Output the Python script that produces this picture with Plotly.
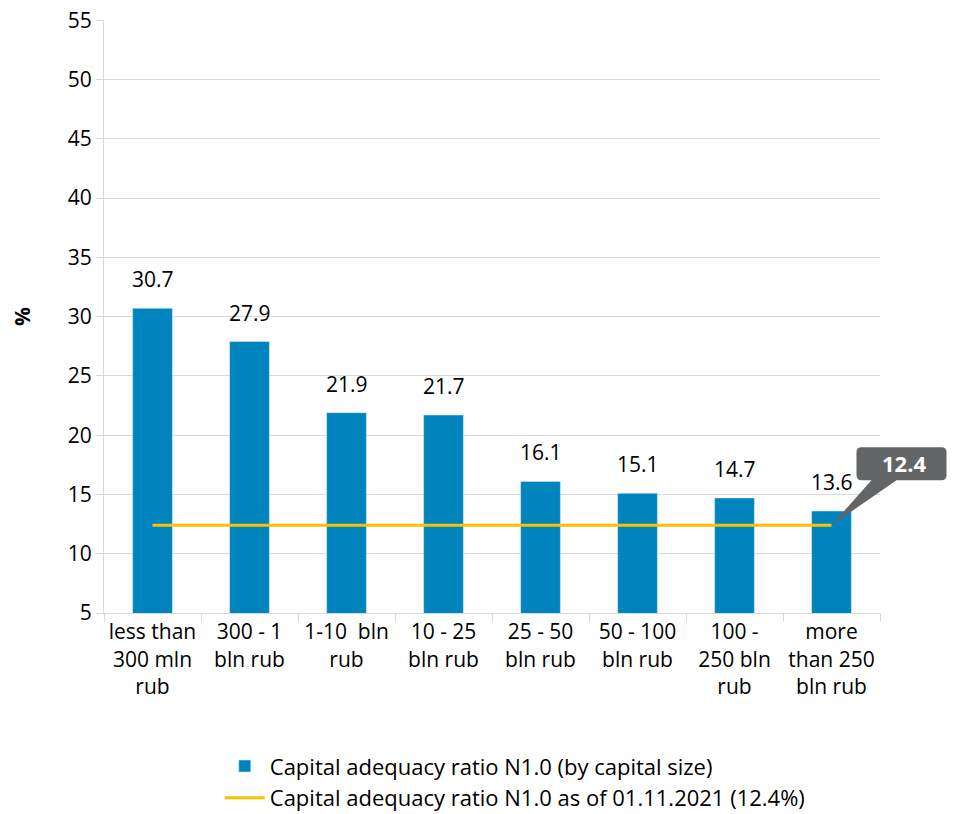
import plotly.graph_objects as go

# Data
categories = ["less than<br>300 mln<br>rub", "300 - 1<br>bln rub", "1-10  bln<br>rub",
              "10 - 25<br>bln rub", "25 - 50<br>bln rub", "50 - 100<br>bln rub",
              "100 -<br>250 bln<br>rub", "more<br>than 250<br>bln rub"]
ratio_by_size = [30.7, 27.9, 21.9, 21.7, 16.1, 15.1, 14.7, 13.6]
sector_ratio = 12.4
bar_name = "Capital adequacy ratio N1.0 (by capital size)"
line_name = "Capital adequacy ratio N1.0 as of 01.11.2021 (12.4%)"
y_ticks = [5, 10, 15, 20, 25, 30, 35, 40, 45, 50, 55]
y_min, y_max = 5, 55

FONT = "Open Sans, sans-serif"
BAR_COLOR = "#0084BE"
LINE_COLOR = "#FFC000"
CALLOUT = "#646567"
FS = 21

fig = go.Figure()

fig.add_trace(go.Bar(
    x=categories,
    y=ratio_by_size,
    marker_color=BAR_COLOR,
    name=bar_name,
))

fig.add_trace(go.Scatter(
    x=categories,
    y=[sector_ratio] * len(categories),
    mode="lines",
    line=dict(color=LINE_COLOR, width=3),
    name=line_name,
))

# value labels above bars
for c, v in zip(categories, ratio_by_size):
    fig.add_annotation(x=c, y=v, text=f"{v}", showarrow=False,
                       yshift=29, font=dict(size=FS, color="black", family=FONT))

# callout for the sector ratio, anchored on the last point of the line
# (paper-referenced so it is not clipped by the plot area)
n = len(categories)
anchor_x = (n - 0.5) / n
anchor_y = (sector_ratio - y_min) / (y_max - y_min)
callout_path = ("M 0 0 L 40 45 L 30 45 Q 25 45 25 50 L 25 73 Q 25 78 30 78 "
                "L 110 78 Q 115 78 115 73 L 115 50 Q 115 45 110 45 L 65 45 Z")
fig.add_shape(type="path", xref="paper", yref="paper",
              xsizemode="pixel", ysizemode="pixel",
              xanchor=anchor_x, yanchor=anchor_y,
              path=callout_path,
              fillcolor=CALLOUT, line=dict(width=0), layer="above")
fig.add_annotation(x=categories[-1], y=sector_ratio, text="<b>12.4</b>", showarrow=False,
                   xshift=72, yshift=62,
                   font=dict(size=22, color="white", family=FONT))

fig.update_xaxes(
    range=[-0.5, n - 0.5],
    showline=True, linecolor="#D9D9D9", linewidth=1,
    ticks="outside", tickson="boundaries", ticklen=8, tickcolor="#D9D9D9",
    tickfont=dict(size=FS, color="black", family=FONT),
    tickangle=0,
    showgrid=False, automargin=False,
)
fig.update_yaxes(
    range=[y_min, y_max + 0.02], tickvals=y_ticks,
    showline=True, linecolor="#D9D9D9", linewidth=1,
    ticks="outside", ticklen=7, tickcolor="#D9D9D9",
    gridcolor="#D9D9D9", gridwidth=1,
    tickfont=dict(size=FS, color="black", family=FONT),
    ticklabeloverflow="allow",
    title=dict(text="<b>%</b>", font=dict(size=FS, color="black", family=FONT), standoff=32),
    zeroline=False, automargin=False,
)

fig.update_layout(
    width=958, height=814,
    margin=dict(l=96, r=86, t=12, b=209, autoexpand=False),
    plot_bgcolor="white", paper_bgcolor="white",
    bargap=0.59,
    font=dict(family=FONT, color="black"),
    showlegend=True,
    legend=dict(orientation="v", x=0.53, xanchor="center", y=-0.223, yanchor="top",
                font=dict(size=22, color="black", family=FONT),
                tracegroupgap=0, itemwidth=40),
)

fig.write_html("out.html")
